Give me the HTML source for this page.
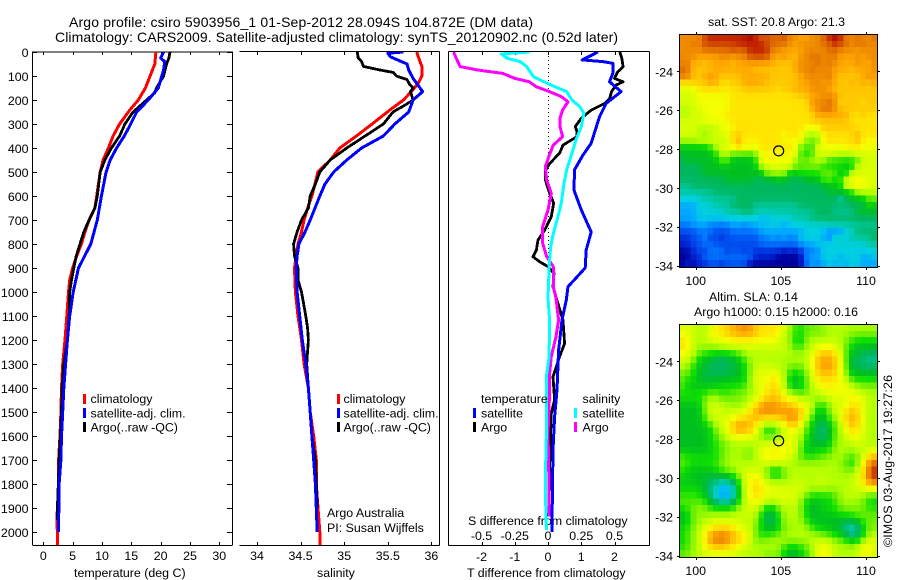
<!DOCTYPE html>
<html>
<head>
<meta charset="utf-8">
<title>Argo profile</title>
<style>
html,body{margin:0;padding:0;background:#fff}
svg{display:block}
text{font-family:"Liberation Sans",sans-serif;font-size:12.4px;fill:#000}
</style>
</head>
<body>
<svg id="chart" xmlns="http://www.w3.org/2000/svg" width="900" height="580" viewBox="0 0 900 580">
  <defs>
    <clipPath id="c1"><rect x="33" y="52" width="199" height="493"/></clipPath>
    <clipPath id="c2"><rect x="240" y="52" width="199" height="493"/></clipPath>
    <clipPath id="c3"><rect x="449" y="52" width="200" height="493"/></clipPath>
  </defs>
  <text x="69" y="27" style="font-size:14px" textLength="464">Argo profile: csiro 5903956_1 01-Sep-2012 28.094S 104.872E (DM data)</text>
  <text x="55" y="42" style="font-size:14px" textLength="563">Climatology: CARS2009. Satellite-adjusted climatology: synTS_20120902.nc (0.52d later)</text>
  <text x="74" y="577">temperature (deg C)</text>
  <text x="317" y="577">salinity</text>
  <text x="467" y="577">T difference from climatology</text>
  <text x="468" y="525">S difference from climatology</text>
  <text x="327" y="517">Argo Australia</text>
  <text x="327" y="532">PI: Susan Wijffels</text>
  <text x="708" y="26">sat. SST: 20.8 Argo: 21.3</text>
  <text x="709" y="301">Altim. SLA: 0.14</text>
  <text x="694" y="316">Argo h1000: 0.15 h2000: 0.16</text>
  <text transform="translate(892,547) rotate(-90)" textLength="172">©IMOS 03-Aug-2017 19:27:26</text>
  <g id="maps"></g>
  <g id="axes" shape-rendering="crispEdges"></g>
  <g id="series" shape-rendering="crispEdges"></g>
  <g id="legends"></g>
</svg>
<script>
// ---- profile data (depth in dbar) ----
const depthTicks = [0,100,200,300,400,500,600,700,800,900,1000,1100,1200,1300,1400,1500,1600,1700,1800,1900,2000];
const tempTicks = [0,5,10,15,20,25,30];
const salTicks = [34,34.5,35,35.5,36];
const dTTicks = [-2,-1,0,1,2];
const dSTicks = [-0.5,-0.25,0,0.25,0.5];
const latTicks = [-24,-26,-28,-30,-32,-34];
const lonTicks = [100,105,110];

const tempClimDepth = [0,50,100,150,200,240,300,350,400,450,500,600,650,700,750,800,850,900,950,1000,1100,1200,1300,1400,1500,1600,1700,1800,1900,1960,2000,2055];
const tempClim = [19.2,19,18.2,17.4,16.2,14.8,13,11.9,11.1,10.2,9.7,9.1,8.8,7.8,7.1,6.5,5.7,5,4.5,4.3,4,3.7,3.3,3.1,3,2.85,2.6,2.6,2.4,2.3,2.4,2.4];
const tempSatDepth = [0,25,40,75,100,150,200,250,300,350,400,450,500,600,700,800,900,1000,1100,1200,1300,1400,1500,1600,1700,1800,1900,1950,2000];
const tempSat = [20.5,20,20.7,20.5,20.2,19.6,17.9,15.9,14.9,13.8,12.5,11.4,10.7,9.9,9.2,8.1,6,5.1,4.5,4.1,3.8,3.5,3.3,3.1,3,2.7,2.7,2.55,2.55];
const tempArgoDepth = [0,25,50,100,150,170,200,250,300,350,400,450,500,600,650,700,750,800,850,900,950,1000,1100,1200,1300,1400,1500,1600,1700,1800,1900,1950];
const tempArgo = [21.6,21.4,21,20.5,19.3,19,17.6,15.3,13.9,13,11.6,10.5,9.7,9.2,8.8,7.8,6.9,6.25,5.6,5.2,4.8,4.5,4.4,4.1,3.5,3.2,3.1,2.9,2.7,2.55,2.4,2.4];

const salClimDepth = [0,30,60,100,130,165,200,240,300,350,400,450,500,600,650,700,750,800,850,900,1000,1100,1200,1300,1400,1500,1600,1700,1800,1900,2000,2055];
const salClim = [35.83,35.86,35.89,35.89,35.85,35.77,35.68,35.53,35.32,35.14,34.95,34.84,34.7,34.63,34.58,34.54,34.51,34.47,34.45,34.43,34.44,34.47,34.51,34.54,34.59,34.61,34.65,34.68,34.68,34.7,34.72,34.72];
const salSatDepth = [0,5,20,50,75,110,165,200,250,300,350,400,450,500,550,600,700,750,800,850,900,1000,1100,1200,1300,1400,1500,1600,1700,1800,1900,2000];
const salSat = [35.68,35.5,35.53,35.72,35.74,35.79,35.9,35.79,35.74,35.58,35.45,35.2,35.03,34.88,34.78,34.72,34.61,34.55,34.48,34.46,34.45,34.46,34.49,34.52,34.56,34.59,34.61,34.63,34.65,34.67,34.68,34.69];
const salArgoDepth = [0,25,40,60,75,85,100,115,135,150,165,200,225,250,300,350,400,450,500,550,600,650,700,750,800,850,900,950,1000,1100,1150,1200,1300,1400,1500,1600,1700,1800,1900];
const salArgo = [35.15,35.16,35.2,35.22,35.41,35.56,35.6,35.72,35.75,35.79,35.76,35.79,35.68,35.56,35.45,35.24,35.03,34.84,34.72,34.67,34.61,34.59,34.51,34.46,34.42,34.43,34.47,34.47,34.51,34.56,34.58,34.59,34.57,34.59,34.61,34.63,34.67,34.68,34.69];

const dTSatDepth = [0,33,40,47,89,124,165,214,270,304,380,430,490,575,658,750,825,900,978,1033,1117,1242,1408,1520,1658,1867,1999];
const dTSat = [1.5,1.03,1.65,1.95,1.95,1.85,2.2,1.75,1.55,1.47,1.3,1.05,0.8,0.78,1,1.3,1.15,1.12,0.6,0.55,0.42,0.32,0.27,0.2,0.15,0.13,0.12];
const dTArgoDepth = [0,26,61,82,110,124,137,165,193,214,242,276,311,332,353,388,422,464,492,533,589,630,686,742,783,825,853,874,894,922,978,1026,1117,1214,1269,1353,1450,1506,1589,1728,1936];
const dTArgo = [2.16,2.22,2.26,2.1,2,2.26,2.06,1.91,1.86,1.71,1.3,1,0.82,0.87,0.87,0.45,0.35,0.05,-0.07,-0.08,0.05,0.17,0.1,-0.1,-0.3,-0.35,-0.45,-0.25,0,0.18,0.15,0.25,0.45,0.5,0.35,0.15,0.2,0.1,0.08,0.05,0.03];
const dSSatDepth = [0,8,26,40,61,103,124,144,165,200,228,256,311,367,422,492,547,630,686,756,811,881,1026,1117,1269,1353,1450,1589,1728,1867,1992];
const dSSat = [-0.14,-0.35,-0.31,-0.21,-0.16,-0.11,-0.03,0.05,0.14,0.18,0.24,0.27,0.25,0.21,0.18,0.14,0.12,0.1,0.075,0.04,0.02,0.01,0,0.012,0.008,-0.012,-0.012,-0.012,-0.018,-0.018,-0.012];
const dSArgoDepth = [0,26,61,75,89,110,124,144,165,186,207,242,276,311,353,388,430,478,533,589,658,728,797,853,894,978,1026,1117,1186,1269,1353,1450,1589,1728,1936];
const dSArgo = [-0.71,-0.69,-0.66,-0.53,-0.34,-0.25,-0.14,-0.09,0.01,0.1,0.15,0.11,0.09,0.09,0.11,0.04,0.01,-0.02,-0.01,0.025,0,-0.04,-0.04,-0.01,0.04,0.04,0.06,0.08,0.06,0.025,0.01,0.01,0,0.005,0.01];

// ---- map data: colour-level per cell, north to south, west to east ----
const sstGrid = [
[17,17,17,17,19,20,20,20,20,20,20,20,21,20,18,19,18,18,19,17,17,16,16,17,17,18,20,21,20,17,17,18,17,17,18],
[17,17,18,17,19,19,19,19,19,19,20,20,20,20,20,19,18,18,18,17,16,17,17,17,17,18,18,20,19,18,17,18,18,17,17],
[17,17,17,17,18,18,18,18,18,19,18,18,20,20,20,20,17,17,16,16,16,16,17,17,17,17,18,18,17,17,17,16,17,17,17],
[17,17,17,16,16,16,16,17,17,16,17,17,19,19,19,19,16,16,17,16,15,17,17,18,18,17,17,18,16,16,16,17,16,17,17],
[17,18,15,16,15,16,16,16,16,15,16,16,16,16,16,16,16,15,15,15,16,17,17,17,18,17,18,17,16,16,16,17,16,16,17],
[18,18,15,15,15,15,16,16,16,16,16,16,16,15,15,15,15,15,15,15,16,17,17,18,17,17,17,16,16,16,15,16,16,16,17],
[18,18,15,15,16,17,16,15,15,15,15,16,16,16,16,16,15,15,15,15,15,16,17,17,17,17,18,16,15,15,15,15,16,17,16],
[14,14,15,15,15,16,16,14,14,15,15,16,16,16,16,15,15,15,15,15,15,16,16,17,17,16,17,16,15,15,16,15,16,15,16],
[12,12,12,14,14,14,14,14,14,14,14,15,15,15,15,15,15,14,15,15,16,16,16,17,17,17,16,15,15,15,15,15,15,15,15],
[12,12,12,13,13,13,13,13,13,14,14,14,14,14,14,14,14,14,14,14,14,15,15,16,16,17,17,17,15,15,15,15,15,15,15],
[12,12,12,13,13,13,13,13,13,14,14,14,14,14,14,14,14,14,14,14,14,14,14,17,17,17,18,17,14,15,15,15,14,15,15],
[11,11,12,12,13,13,13,13,13,14,14,14,14,14,14,14,14,14,14,14,14,14,14,16,17,18,18,17,15,15,15,15,15,15,15],
[11,11,12,12,12,13,13,13,14,14,14,14,14,14,14,14,14,14,14,14,14,14,14,14,16,16,16,16,16,16,14,14,15,14,14],
[12,12,12,12,13,13,13,13,13,14,14,14,14,14,14,14,14,14,14,14,14,14,14,15,15,15,15,15,15,15,14,14,14,14,14],
[12,12,12,11,11,11,11,13,13,13,14,14,14,14,14,14,14,14,14,14,14,14,13,13,13,15,15,15,15,15,15,14,14,14,14],
[12,12,12,11,10,11,12,12,12,15,15,14,14,14,14,14,14,14,13,14,14,14,11,11,11,14,14,14,14,14,14,16,14,14,14],
[11,11,11,12,12,12,12,11,11,14,16,13,13,13,14,14,14,14,13,13,13,13,10,10,9,14,14,14,14,14,14,16,13,13,13],
[8,8,8,8,8,9,11,13,13,14,16,14,14,14,14,14,14,14,14,14,14,9,10,9,13,13,13,13,13,14,14,14,13,13,13],
[8,8,8,8,8,8,9,11,11,9,9,9,9,9,13,13,13,13,13,13,13,9,9,9,12,12,12,12,11,11,11,12,12,12,12],
[7,8,8,8,8,8,8,10,10,8,8,8,8,9,13,14,14,13,13,14,10,10,10,11,11,11,9,9,9,9,9,9,12,12,12],
[7,7,7,7,8,8,8,8,8,8,8,8,8,8,11,11,12,12,12,12,10,10,10,10,10,9,9,9,9,8,8,12,12,12,12],
[7,7,7,7,8,8,8,8,8,8,8,8,8,8,8,11,11,11,11,8,8,9,9,9,9,10,10,10,8,8,12,12,12,12,12],
[7,7,7,7,7,7,7,7,8,8,8,8,8,7,7,7,7,8,8,7,7,7,8,8,8,10,10,9,9,12,13,13,13,12,12],
[6,6,7,7,7,7,7,7,7,7,7,7,7,7,7,7,7,7,7,7,7,7,7,7,7,7,8,8,8,13,13,14,13,13,12],
[6,6,6,6,6,6,7,7,7,7,7,7,7,7,7,7,7,7,7,7,7,7,7,7,7,7,8,8,8,8,8,11,11,11,11],
[5,5,5,5,6,6,6,6,6,6,7,7,7,7,7,7,7,7,7,7,7,7,7,7,7,7,7,7,5,7,8,8,8,10,10],
[4,4,4,5,5,5,6,6,6,7,7,7,7,6,6,6,6,6,6,6,6,7,7,7,7,7,7,7,7,7,7,7,7,9,8],
[4,4,4,5,5,5,5,5,6,6,6,7,7,6,6,6,6,6,6,6,6,6,6,6,7,7,7,6,6,6,6,8,8,8,8],
[4,4,4,5,5,5,5,5,5,5,5,5,5,5,4,4,5,5,5,5,6,6,6,7,7,7,7,7,7,7,7,7,7,7,7],
[3,3,4,4,4,3,3,3,3,4,4,3,4,4,5,5,5,5,4,5,5,5,5,5,5,5,6,6,6,6,6,6,6,6,6],
[2,2,2,3,3,3,2,2,2,3,3,3,3,3,4,4,4,4,4,4,4,4,5,5,5,5,3,3,3,5,5,7,7,7,7],
[1,1,2,2,4,1,2,1,2,2,2,2,2,2,3,3,4,3,4,3,3,5,5,5,5,4,3,6,6,5,6,6,6,6,7],
[1,1,2,2,3,3,2,2,2,2,2,2,2,2,3,3,3,3,3,3,3,4,4,4,5,5,5,5,5,5,5,5,5,6,6],
[0,0,1,2,1,3,3,3,1,2,2,1,2,1,1,1,1,1,0,1,0,1,3,3,3,5,5,5,5,5,5,5,5,5,5],
[0,0,1,1,3,3,3,3,3,3,3,3,3,1,1,1,1,0,0,0,0,0,4,4,4,5,5,5,4,5,5,5,4,4,5],
[0,1,0,1,1,2,2,1,2,2,2,2,0,0,0,0,0,0,0,0,0,0,3,4,3,4,5,4,5,4,5,5,4,4,4]
];
const slaGrid = [
[12,12,12,11,11,11,14,14,14,16,16,17,17,14,14,14,14,14,12,11,9,9,10,10,10,11,11,11,11,11,11,11,11,11,11],
[13,13,11,11,11,14,14,14,15,16,16,17,16,16,14,14,14,14,11,11,9,9,10,10,10,10,11,11,11,11,10,10,10,10,10],
[14,14,11,11,11,12,12,12,13,13,13,13,13,13,13,13,13,12,11,11,8,8,11,11,11,11,11,11,11,10,10,9,9,9,9],
[14,14,11,11,11,11,11,12,12,12,12,12,12,12,12,12,12,12,12,11,9,9,11,11,13,13,13,13,11,10,8,8,8,8,8],
[13,13,11,10,9,9,8,8,8,9,9,11,11,11,11,11,11,11,11,11,11,11,11,12,15,15,15,15,12,10,8,8,7,7,7],
[12,12,10,8,8,8,7,7,7,8,8,9,11,11,11,11,11,11,11,11,11,11,11,13,15,16,16,15,13,9,7,7,7,6,6],
[11,11,9,8,8,7,7,7,7,7,8,9,10,12,12,12,11,11,11,10,10,10,11,13,16,17,17,16,13,10,7,7,7,6,7],
[10,10,9,8,7,7,7,7,7,8,8,8,10,12,12,12,13,13,11,9,9,9,10,12,15,15,15,15,13,10,8,8,8,8,8],
[10,9,9,8,8,8,8,8,8,8,8,8,11,13,13,13,14,14,11,8,8,8,10,12,14,14,14,14,13,11,9,9,9,9,9],
[10,8,8,8,8,8,8,9,9,9,9,10,10,12,12,14,14,14,12,8,8,8,10,11,13,14,14,13,13,13,11,11,10,10,10],
[9,9,9,9,9,10,10,9,9,10,10,10,10,12,12,14,15,15,12,10,10,9,10,11,11,11,13,13,13,13,13,11,11,11,11],
[9,9,9,9,10,11,11,10,10,10,10,11,11,13,13,15,15,15,13,13,13,11,11,11,11,11,12,12,12,12,14,14,13,11,11],
[8,8,8,8,10,12,12,11,11,11,10,11,12,13,16,17,17,16,16,15,15,13,13,11,9,9,10,12,12,12,14,14,12,11,11],
[8,8,8,8,10,12,12,12,11,11,12,12,14,17,18,18,17,17,17,16,16,14,14,11,8,8,10,12,12,15,15,15,12,11,11],
[8,8,8,8,9,12,12,12,12,13,14,14,15,15,14,14,15,15,15,18,18,15,11,9,8,8,10,11,11,16,16,16,12,11,11],
[8,8,8,8,9,9,11,12,12,15,16,16,15,15,12,11,10,12,12,15,15,12,10,9,7,6,8,10,10,15,15,15,12,11,11],
[8,8,8,8,8,8,10,12,12,16,17,16,16,13,9,8,8,10,12,13,13,12,9,8,8,6,8,10,10,14,14,14,12,11,11],
[8,8,8,8,8,9,9,11,11,12,12,12,12,12,11,10,10,10,12,12,12,11,9,8,7,6,8,10,11,11,13,13,12,11,11],
[8,8,8,8,8,9,9,10,10,11,11,11,11,11,11,12,13,13,13,13,12,10,8,8,8,8,8,10,11,11,11,12,12,11,11],
[8,8,8,8,8,8,9,10,10,11,11,11,10,11,13,13,13,13,13,13,13,10,8,8,9,9,9,11,11,11,11,11,11,11,12],
[10,9,9,9,9,9,9,10,11,11,11,10,10,11,13,14,14,14,13,12,10,9,9,9,9,10,10,11,11,10,9,10,12,15,16],
[10,10,9,9,9,9,9,10,10,11,11,11,11,11,11,12,12,12,12,11,11,11,11,11,11,11,11,11,10,10,8,10,13,17,18],
[9,8,8,8,8,9,9,11,11,11,12,12,12,12,12,10,8,8,10,11,11,11,11,11,11,11,11,11,11,10,10,11,14,18,20],
[9,9,8,8,8,7,7,7,7,9,9,12,13,13,12,10,8,8,10,11,11,11,11,11,11,11,11,11,11,11,11,12,14,18,21],
[8,8,8,8,8,7,7,6,6,7,9,12,14,14,14,12,12,12,11,11,12,12,11,11,12,12,11,11,11,11,11,12,14,17,17],
[9,9,9,9,7,7,5,4,4,5,8,11,13,15,14,12,12,12,12,12,12,12,11,11,11,11,11,11,11,11,12,12,12,13,13],
[9,9,9,9,8,7,4,3,3,5,8,11,14,14,14,13,13,13,13,12,12,12,10,9,9,9,9,9,11,11,11,11,11,9,9],
[10,10,10,10,10,8,7,6,6,7,9,11,13,13,13,11,11,11,12,12,12,10,8,8,8,8,9,9,11,11,11,11,10,9,9],
[9,9,10,10,10,9,9,9,9,9,11,11,12,12,10,8,8,10,11,11,11,11,8,8,8,9,9,9,10,10,10,10,10,9,9],
[8,8,11,11,11,11,11,11,11,11,12,12,12,11,9,7,7,9,11,11,11,11,8,8,8,8,8,8,9,9,10,10,10,10,10],
[8,8,10,10,10,12,12,12,12,12,12,11,11,11,9,7,6,9,11,11,11,11,9,8,8,8,8,8,8,7,7,8,10,10,10],
[9,9,11,11,13,13,14,14,14,14,12,12,12,10,8,8,8,8,10,10,11,11,11,9,9,8,8,8,7,6,5,6,8,10,10],
[9,9,11,11,13,16,17,18,17,16,14,14,12,10,9,9,9,10,11,11,11,11,11,11,10,10,9,9,8,7,5,6,9,11,11],
[9,9,11,11,14,17,18,18,18,15,15,15,12,10,10,11,11,11,11,11,11,11,11,11,12,12,11,11,10,10,8,9,10,12,12],
[9,9,11,11,13,14,15,15,14,14,12,12,11,11,11,11,11,11,9,8,8,9,10,10,13,13,13,11,11,11,11,11,14,15,12],
[10,10,11,11,12,12,12,12,12,12,12,11,11,11,11,10,10,11,8,8,8,8,10,10,13,13,13,11,11,11,11,11,13,13,11]
];
const argoLon = [104.872];
const argoLat = [-28.094];

// ---- style + scales ----
const levelColors = ['#00009c','#0028d8','#0050f0','#0078ff','#00a8ff','#00d0e0','#00c8a0','#00b860','#00c020','#10e000','#70f000','#b4ff00','#d8ff00','#f4ff00','#ffe400','#ffc800','#ffa800','#f08c00','#e06c00','#d04800','#c02000','#a80000'];
const NS = 'http://www.w3.org/2000/svg';
const axesG = document.getElementById('axes');
const seriesG = document.getElementById('series');
const mapsG = document.getElementById('maps');
const legendsG = document.getElementById('legends');

const yDepth = d => 52 + d * 0.24;
const xTemp = v => 43.3 + v * 5.867;
const xSal = v => 257 + (v - 34) * 87.2;
const xDT = v => 548 + v * 33.25;
const xDS = v => 548 + v * 133;
const xLon = v => 695.7 + (v - 100) * 17.03;
const yLat1 = v => 71.3 + (-24 - v) * 19.43;
const yLat2 = v => 361.3 + (-24 - v) * 19.43;

function mk(tag, attrs, parent) {
  const el = document.createElementNS(NS, tag);
  for (const k in attrs) el.setAttribute(k, attrs[k]);
  parent.appendChild(el);
  return el;
}
function seg(x1, y1, x2, y2) {
  const el = mk('line', {x1: x1, y1: y1, x2: x2, y2: y2, stroke: '#000', 'stroke-width': 1}, axesG);
  return el;
}
function label(txt, x, y, anchor, parent) {
  const el = mk('text', {x: x, y: y, 'text-anchor': anchor}, parent);
  el.textContent = txt;
  return el;
}
function pts(xs, ds, xf) {
  return xs.map((v, i) => xf(v).toFixed(1) + ',' + yDepth(ds[i]).toFixed(1)).join(' ');
}
function profile(vals, ds, xf, color, width, clip) {
  return mk('polyline', {points: pts(vals, ds, xf), fill: 'none', stroke: color, 'stroke-width': width, 'stroke-linejoin': 'round', 'clip-path': 'url(#' + clip + ')'}, seriesG);
}
function px(v) { return Math.round(v) + 0.5; }

// level -> colour, interpolating the colour table
function levelColor(v) {
  const t = Math.max(0, Math.min(levelColors.length - 1, v));
  const a = Math.floor(t), b = Math.min(levelColors.length - 1, a + 1), f = t - a;
  const rgb = i => [1, 3, 5].map(p => parseInt(levelColors[i].substr(p, 2), 16));
  const ca = rgb(a), cb = rgb(b);
  return 'rgb(' + ca.map((c, i) => Math.round(c + (cb[i] - c) * f)).join(',') + ')';
}
// cell value blended with its neighbours (weights: centre, edge-neighbour, corner-neighbour)
function blended(grid, r, c, wc, we, wd) {
  let sum = 0, w = 0;
  for (let dr = -1; dr <= 1; dr++) for (let dc = -1; dc <= 1; dc++) {
    const row = grid[Math.max(0, Math.min(grid.length - 1, r + dr))];
    const val = row[Math.max(0, Math.min(row.length - 1, c + dc))];
    const k = (dr === 0 && dc === 0) ? wc : (dr === 0 || dc === 0) ? we : wd;
    sum += val * k;
    w += k;
  }
  return sum / w;
}

// ---- maps ----
function drawCells(grid, top, wc, we, wd) {
  const L = 679.3, W = 198 / 35, H = 232.4 / 36;
  const out = [];
  grid.forEach((row, r) => row.forEach((v, c) => {
    out.push(mk('rect', {x: (L + c * W).toFixed(2), y: (top + r * H).toFixed(2), width: (W + 0.5).toFixed(2), height: (H + 0.5).toFixed(2), fill: levelColor(blended(grid, r, c, wc, we, wd)), 'shape-rendering': 'crispEdges'}, mapsG));
  }));
  return out;
}
drawCells(sstGrid, 34.3, 4, 1, 0.5).forEach(function (el) {
  
  
});
drawCells(slaGrid, 324.3, 2, 1, 0.6).forEach(function (el) {
  
  
});

// ---- map frames + ticks ----
[[34, yLat1, 'sst'], [324, yLat2, 'sla']].forEach(function (m) {
  const top = m[0], yf = m[1], h = 233;
  const frame = mk('rect', {x: 679.5, y: top + 0.5, width: 198, height: h, fill: 'none', stroke: '#000', 'stroke-width': 1}, axesG);
  
  
  latTicks.forEach(function (v) {
    const yy = px(yf(v));
    const t1 = seg(677, yy, 680, yy);
    
    
    const t2 = seg(877, yy, 880, yy);
    
    
    const tl = label(String(v), 673, yf(v) + 5, 'end', legendsG);
    
    
  });
  lonTicks.forEach(function (v) {
    const xx = px(xLon(v));
    const t1 = seg(xx, top - 2, xx, top + 1);
    
    
    const t2 = seg(xx, top + h, xx, top + h + 3);
    
    
    const tl = label(String(v), xLon(v), top + 251, 'middle', legendsG);
    
    
  });
  const mark = mk('circle', {cx: xLon(argoLon[0]), cy: yf(argoLat[0]), r: 5, fill: 'none', stroke: '#000', 'stroke-width': 1.2}, legendsG);
  
  
});

// ---- panel axes ----
const panelTop = 52, panelBottom = 545;
// temperature panel
[[32.5, 232.5]].forEach(function (p) {
  const lines = [seg(p[0], panelTop - .5, p[0], panelBottom), seg(p[1], panelTop - .5, p[1], panelBottom), seg(p[0], panelTop - .5 + .5, p[1], panelTop), seg(p[0], panelBottom + .5, p[1], panelBottom + .5)];
  lines.forEach(function (el) {
    
    
  });
});
depthTicks.forEach(function (d) {
  const yy = px(yDepth(d));
  const a = seg(33, yy, 37, yy);
  
  
  const b = seg(227, yy, 232, yy);
  
  
  const t = label(String(d), 28.5, yDepth(d) + 5, 'end', legendsG);
  
  
});
tempTicks.forEach(function (v) {
  const xx = px(xTemp(v));
  const a = seg(xx, 52, xx, 55);
  
  
  const b = seg(xx, 542, xx, 545);
  
  
  const t = label(String(v), xTemp(v), 560, 'middle', legendsG);
  
  
});
// salinity panel
[seg(239.5, 51.5, 439.5, 51.5), seg(239.5, 545.5, 439.5, 545.5), seg(439.5, 51.5, 439.5, 545.5)].forEach(function (el) {
  
  
});
salTicks.forEach(function (v) {
  const xx = px(xSal(v));
  const a = seg(xx, 52, xx, 55);
  
  
  const b = seg(xx, 542, xx, 545);
  
  
  const t = label(String(v), xSal(v), 560, 'middle', legendsG);
  
  
});
// difference panel
[seg(448.5, 51.5, 448.5, 545.5), seg(649.5, 51.5, 649.5, 545.5), seg(448.5, 51.5, 649.5, 51.5), seg(448.5, 545.5, 649.5, 545.5)].forEach(function (el) {
  
  
});
dTTicks.forEach(function (v) {
  const xx = px(xDT(v));
  const a = seg(xx, 52, xx, 55);
  
  
  const b = seg(xx, 542, xx, 545);
  
  
  const t = label(String(v), xDT(v), 561, 'middle', legendsG);
  
  
});
dSTicks.forEach(function (v) {
  const t = label(String(v), xDS(v), 540, 'middle', legendsG);
  
  
});
const zero = mk('line', {x1: 548.5, y1: 52, x2: 548.5, y2: yDepth(1150), stroke: '#000', 'stroke-width': 1, 'stroke-dasharray': '1 3'}, axesG);



// ---- series ----
const s1 = profile(tempClim, tempClimDepth, xTemp, '#ff0000', 3, 'c1');


const s3 = profile(tempArgo, tempArgoDepth, xTemp, '#000000', 2.8, 'c1');


const s2 = profile(tempSat, tempSatDepth, xTemp, '#0000ff', 3, 'c1');


const s4 = profile(salClim, salClimDepth, xSal, '#ff0000', 3, 'c2');


const s6 = profile(salArgo, salArgoDepth, xSal, '#000000', 2.8, 'c2');


const s5 = profile(salSat, salSatDepth, xSal, '#0000ff', 3, 'c2');


const s8 = profile(dTArgo, dTArgoDepth, xDT, '#000000', 2.8, 'c3');


const s10 = profile(dSArgo, dSArgoDepth, xDS, '#ff00ff', 3, 'c3');


const s7 = profile(dTSat, dTSatDepth, xDT, '#0000ff', 3, 'c3');


const s9 = profile(dSSat, dSSatDepth, xDS, '#00ffff', 3, 'c3');



// ---- legends ----
const legendRowY = [394, 408, 422];
const legendRowText = [403, 417.5, 431.5];
const tsLegendText = ['climatology', 'satellite-adj. clim.', 'Argo(..raw -QC)'];
const tsLegendColors = ['#ff0000', '#0000ff', '#000000'];
[[83, 90.5], [337, 343.5]].forEach(function (pos) {
  tsLegendText.forEach(function (txt, i) {
    const sw = mk('rect', {x: pos[0], y: legendRowY[i], width: 3, height: 10, fill: tsLegendColors[i], 'shape-rendering': 'crispEdges'}, legendsG);
    
    
    const t = label(txt, pos[1], legendRowText[i], 'start', legendsG);
    
    
  });
});
const diffLegendTitles = ['temperature', 'salinity'];
const diffLegendText = ['satellite', 'Argo'];
const diffLegendColors = [['#0000ff', '#000000'], ['#00ffff', '#ff00ff']];
[[473, 481], [574, 582.5]].forEach(function (pos, g) {
  const head = label(diffLegendTitles[g], pos[1], legendRowText[0], 'start', legendsG);
  
  
  diffLegendText.forEach(function (txt, i) {
    const sw = mk('rect', {x: pos[0], y: legendRowY[i + 1], width: 3, height: 10, fill: diffLegendColors[g][i], 'shape-rendering': 'crispEdges'}, legendsG);
    
    
    const t = label(txt, pos[1], legendRowText[i + 1], 'start', legendsG);
    
    
  });
});
</script>
</body>
</html>
